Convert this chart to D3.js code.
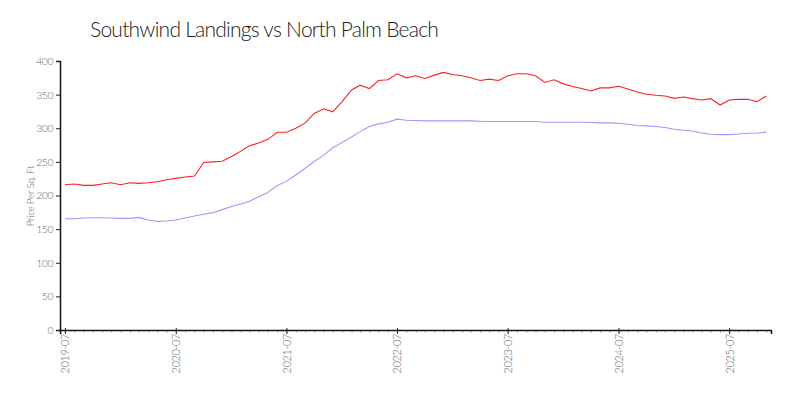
<!DOCTYPE html>
<html>
<head>
<meta charset="utf-8">
<script src="https://cdn.jsdelivr.net/npm/d3@7"></script>
<style>
  body { margin: 0; background: #fff; }
  text { font-family: Lato, "Open Sans", sans-serif; font-weight: 300; }
</style>
</head>
<body>
<div id="chart"></div>
<script>
// monthly series, first month 2019-07
let startMonth = "2019-07";
let southwind = [216, 217, 215, 215, 217, 219, 216, 219, 218, 219, 220.5, 223.5,
                 225.5, 227.5, 229, 249, 250, 251, 258, 266, 274, 278, 283.5, 294,
                 294, 300, 308, 322, 329, 324.5, 339.5, 357, 364, 359, 371, 372,
                 381, 375, 378, 374, 379, 383, 380, 378, 375, 371, 373, 371,
                 378, 381, 381, 378, 368, 372, 366, 362, 359, 355.5, 360, 360,
                 362.5, 358.5, 354, 350.5, 349, 348, 344.5, 346.5, 344, 342, 344, 334.5,
                 342, 343, 343, 339.5, 348];
let northPalm = [165.5, 165.5, 166.5, 167, 167, 166.5, 166, 166, 167.5, 163.5, 161.5, 162,
                 163.5, 166.5, 169.5, 172, 174.5, 179, 183.5, 187.5, 191.5, 198, 204.5, 215,
                 221, 230.5, 240.5, 250.5, 260, 271, 279, 287, 295, 302.5, 306.5, 309,
                 313.5, 312, 311.5, 311, 311, 311, 311, 311, 311, 310.5, 310, 310,
                 310, 310, 310, 310, 309, 309, 309, 309, 309, 308.5, 308, 308,
                 307.5, 306, 304, 303.5, 302.5, 301, 298.5, 297, 296, 293, 291, 290.5,
                 290.5, 291.5, 292.5, 293, 294];
let yTicks = [0, 50, 100, 150, 200, 250, 300, 350, 400];
let title = "Southwind Landings vs North Palm Beach";
let yLabel = "Price Per Sq. Ft";

let width = 800;
let height = 400;
let margin = { top: 61, right: 29, bottom: 70, left: 60 };
let chartWidth = width - margin.left - margin.right;
let chartHeight = height - margin.top - margin.bottom;

let parseMonth = d3.timeParse("%Y-%m");
let start = parseMonth(startMonth);
let dates = southwind.map((d, i) => d3.timeMonth.offset(start, i));

let svg = d3.select("#chart").append("svg").attr("width", width).attr("height", height);
let chartGroup = svg.append("g").attr("transform", `translate(${margin.left}, ${margin.top})`);

let xScale = d3.scaleTime()
    .domain([d3.timeDay.offset(dates[0], -16), d3.timeDay.offset(dates[dates.length - 1], 15)])
    .range([0, chartWidth]);
let yScale = d3.scaleLinear().domain([0, 400]).range([chartHeight, 0]);

// title
svg.append("text").attr("x", 90).attr("y", 37)
    .attr("font-size", "21px").attr("letter-spacing", "-0.75px").attr("fill", "#222").text(title);

// y label
svg.append("text").attr("transform", "rotate(-90)")
    .attr("x", -196).attr("y", 34)
    .attr("text-anchor", "middle").attr("font-size", "10px").attr("fill", "#666")
    .attr("letter-spacing", "-0.3px")
    .text(yLabel);

// minor monthly ticks
let minorAxis = d3.axisBottom(xScale).ticks(d3.timeMonth.every(1)).tickSize(3).tickFormat("");
let minorG = chartGroup.append("g").attr("transform", `translate(0, ${chartHeight})`).call(minorAxis);
minorG.select(".domain").remove();
minorG.selectAll("line").attr("stroke", "#bbb");

// major yearly ticks (July)
let julys = d3.timeMonth.range(dates[0], d3.timeMonth.offset(dates[dates.length - 1], 1)).filter(d => d.getMonth() === 6);
let xAxis = d3.axisBottom(xScale).tickValues(julys).tickSize(4).tickFormat(d3.timeFormat("%Y-%m"));
let xg = chartGroup.append("g").attr("transform", `translate(0, ${chartHeight})`).call(xAxis);
xg.selectAll(".tick line").attr("y1", -2).attr("stroke", "#222");
xg.select(".domain").attr("stroke", "#111").attr("stroke-width", 1.5);
xg.selectAll("text")
    .attr("transform", "rotate(-90)")
    .attr("text-anchor", "end")
    .attr("x", -4).attr("y", 0).attr("dy", "0.35em")
    .attr("font-size", "11px").attr("fill", "#666").attr("letter-spacing", "-0.4px")
    .style("font-family", "Lato, sans-serif");

// y axis
let yAxis = d3.axisLeft(yScale).tickValues(yTicks).tickSize(4);
let yg = chartGroup.append("g").call(yAxis);
yg.select(".domain").attr("stroke", "#111").attr("stroke-width", 1.5);
yg.selectAll(".tick line").attr("stroke", "#222");
yg.selectAll("text").attr("font-size", "10.5px").attr("fill", "#666").attr("letter-spacing", "-0.5px")
    .style("font-family", "Lato, sans-serif");

// lines
let line = d3.line().x((d, i) => xScale(dates[i])).y(d => yScale(d));

chartGroup.append("path").datum(northPalm)
    .attr("fill", "none").attr("stroke", "#9999ff").attr("stroke-width", 1.1)
    .attr("d", line);

chartGroup.append("path").datum(southwind)
    .attr("fill", "none").attr("stroke", "#ff2020").attr("stroke-width", 1.1)
    .attr("d", line);
</script>
</body>
</html>
